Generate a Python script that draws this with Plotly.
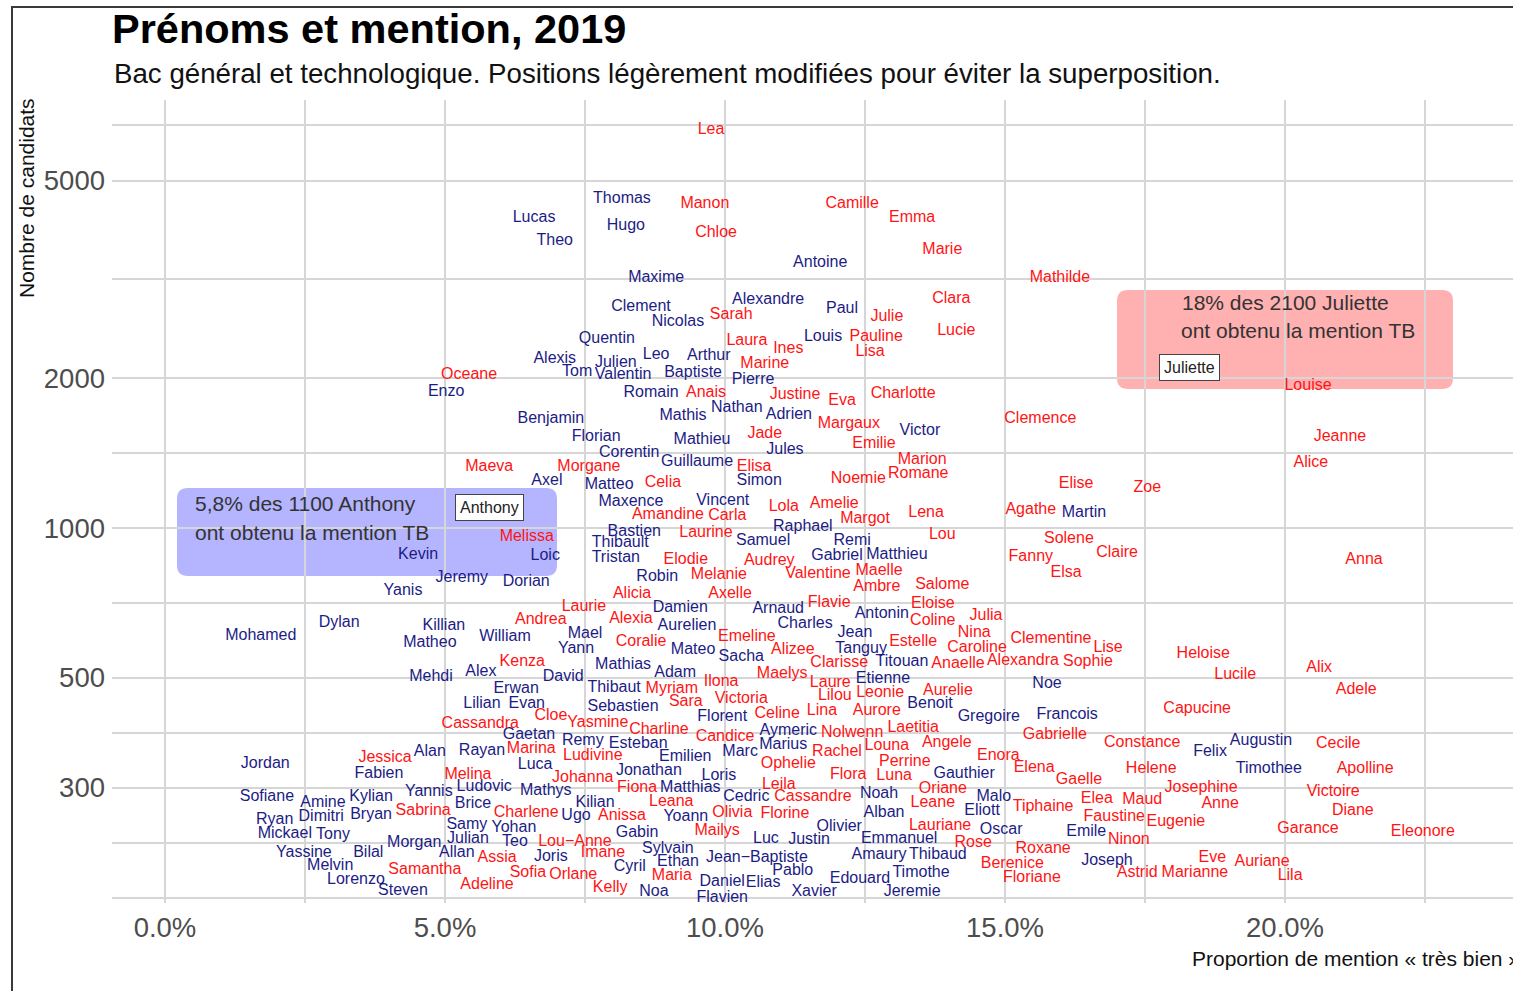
import math
import plotly.graph_objects as go

# ---------------- data (proportion of "très bien" in %, number of candidates) ----------------
girl_names = ["Lea","Manon","Camille","Emma","Chloe","Marie","Mathilde","Clara","Sarah","Julie","Lucie","Pauline",
    "Laura","Ines","Lisa","Marine","Oceane","Anais","Justine","Eva","Charlotte","Clemence","Margaux","Jade","Emilie",
    "Marion","Elisa","Maeva","Morgane","Noemie","Romane","Celia","Lola","Amelie","Amandine","Carla","Margot","Lena",
    "Laurine","Lou","Melissa","Elodie","Audrey","Melanie","Valentine","Maelle","Ambre","Salome","Alicia","Axelle",
    "Laurie","Flavie","Eloise","Andrea","Alexia","Coline","Julia","Nina","Emeline","Clementine","Coralie","Estelle",
    "Caroline","Lise","Alizee","Heloise","Alexandra","Sophie","Kenza","Clarisse","Anaelle","Alix","Maelys","Lucile",
    "Ilona","Laure","Myriam","Adele","Aurelie","Lilou","Leonie","Victoria","Sara","Capucine","Celine","Lina","Aurore",
    "Cloe","Yasmine","Cassandra","Laetitia","Charline","Nolwenn","Gabrielle","Candice","Angele","Constance","Cecile",
    "Louna","Marina","Rachel","Enora","Ludivine","Jessica","Perrine","Ophelie","Elena","Helene","Apolline","Melina",
    "Flora","Luna","Johanna","Gaelle","Leila","Fiona","Josephine","Oriane","Victoire","Cassandre","Elea","Maud",
    "Leana","Leane","Anne","Tiphaine","Sabrina","Diane","Charlene","Olivia","Florine","Anissa","Faustine","Eugenie",
    "Lauriane","Garance","Mailys","Eleonore","Ninon","Lou\u2212Anne","Rose","Roxane","Imane","Assia","Eve","Auriane",
    "Berenice","Samantha","Sofia","Astrid","Marianne","Orlane","Maria","Lila","Floriane","Adeline","Kelly","Louise",
    "Jeanne","Alice","Elise","Zoe","Agathe","Solene","Claire","Fanny","Elsa","Anna"]
girl_prop = [9.75,9.64,12.27,13.34,9.84,13.88,15.98,14.04,10.11,12.89,14.13,12.70,
    10.39,11.13,12.59,10.71,5.43,9.66,11.25,12.09,13.18,15.63,12.21,10.71,12.66,
    13.52,10.52,5.79,7.57,12.38,13.45,8.89,11.05,11.95,8.98,10.04,12.50,13.59,
    9.66,13.88,6.46,9.30,10.79,9.89,11.66,12.75,12.71,13.88,8.34,10.09,
    7.48,11.86,13.71,6.71,8.32,13.71,14.66,14.45,10.39,15.82,8.50,13.36,
    14.50,16.84,11.21,18.54,15.32,16.48,6.38,12.04,14.16,20.61,11.02,19.11,
    9.93,11.88,9.05,21.27,13.98,11.96,12.77,10.29,9.30,18.43,10.93,11.73,12.71,
    6.89,7.73,5.63,13.36,8.82,12.27,15.89,10.00,13.96,17.45,20.95,
    12.89,6.54,12.00,14.88,7.64,3.93,13.21,11.13,15.52,17.61,21.43,5.41,
    12.20,13.02,7.46,16.32,10.96,8.43,18.50,13.89,20.86,11.57,16.64,17.45,
    9.04,13.71,18.84,15.68,4.61,21.21,6.45,10.13,11.07,8.16,16.95,18.05,
    13.84,20.41,9.86,22.46,17.21,7.32,14.43,15.68,7.82,5.93,18.70,19.59,
    15.13,4.64,6.48,17.36,18.39,7.29,9.05,20.09,15.48,5.75,7.95,20.41,
    20.98,20.46,16.27,17.54,15.46,16.14,17.00,15.46,16.09,21.41]
girl_count = [6320,4490,4490,4200,3920,3630,3180,2890,2680,2660,2490,2420,
    2380,2290,2260,2140,2030,1870,1850,1800,1860,1660,1620,1545,1475,
    1370,1325,1325,1325,1255,1285,1230,1100,1115,1060,1055,1043,1070,
    977,968,959,862,858,804,808,819,760,768,736,736,
    694,706,703,653,656,650,665,614,603,598,589,589,
    573,573,568,558,540,537,537,535,532,523,508,506,
    489,487,474,472,470,459,465,453,447,432,422,428,428,
    419,405,403,396,392,387,383,379,370,370,368,
    365,360,355,348,347,345,338,335,329,327,327,318,
    318,317,314,311,304,300,300,298,294,287,285,283,
    281,280,279,274,270,270,267,267,266,263,262,256,
    252,248,246,244,236,234,232,226,222,217,217,213,
    211,205,202,202,202,200,199,199,198,191,189,1930,
    1524,1351,1226,1204,1087,950,891,874,812,862]

boy_names = ["Thomas","Lucas","Hugo","Theo","Antoine","Maxime","Alexandre","Clement","Paul","Nicolas","Louis",
    "Quentin","Leo","Arthur","Alexis","Julien","Tom","Valentin","Baptiste","Pierre","Enzo","Romain","Nathan","Adrien",
    "Mathis","Benjamin","Victor","Florian","Mathieu","Jules","Corentin","Guillaume","Simon","Axel","Matteo","Maxence",
    "Vincent","Raphael","Bastien","Samuel","Remi","Thibault","Kevin","Loic","Gabriel","Matthieu","Tristan","Robin",
    "Jeremy","Dorian","Yanis","Arnaud","Damien","Antonin","Dylan","Charles","Killian","Aurelien","Jean","Mael",
    "Mohamed","William","Matheo","Yann","Tanguy","Mateo","Sacha","Titouan","Mathias","Alex","Adam","Mehdi","David",
    "Etienne","Noe","Erwan","Thibaut","Lilian","Evan","Benoit","Sebastien","Francois","Gregoire","Florent","Aymeric",
    "Gaetan","Remy","Augustin","Esteban","Marius","Rayan","Alan","Felix","Marc","Emilien","Jordan","Luca","Timothee",
    "Jonathan","Fabien","Gauthier","Loris","Ludovic","Matthias","Mathys","Yannis","Noah","Sofiane","Cedric","Malo",
    "Kylian","Amine","Kilian","Brice","Eliott","Alban","Bryan","Ugo","Yoann","Dimitri","Ryan","Samy","Olivier",
    "Yohan","Oscar","Emile","Gabin","Mickael","Tony","Julian","Luc","Emmanuel","Justin","Teo","Morgan","Sylvain",
    "Allan","Yassine","Bilal","Amaury","Thibaud","Joris","Jean\u2212Baptiste","Joseph","Ethan","Melvin","Cyril",
    "Pablo","Timothe","Edouard","Lorenzo","Daniel","Elias","Steven","Noa","Xavier","Jeremie","Flavien","Martin"]
boy_prop = [8.16,6.59,8.23,6.96,11.70,8.77,10.77,8.50,12.09,9.16,11.75,
    7.89,8.77,9.71,6.96,8.05,7.36,8.18,9.43,10.50,5.02,8.68,10.21,11.14,
    9.25,6.89,13.48,7.70,9.59,11.07,8.29,9.50,10.61,6.82,7.93,8.32,
    9.96,11.39,8.38,10.68,12.27,8.13,4.52,6.79,12.00,13.07,8.05,8.79,
    5.30,6.45,4.25,10.95,9.20,12.80,3.11,11.43,4.98,9.32,12.32,7.50,
    1.71,6.07,4.73,7.34,12.43,9.43,10.29,13.16,8.18,5.64,9.11,4.75,7.11,
    12.82,15.75,6.27,8.02,5.66,6.46,13.66,8.18,16.11,14.71,9.95,11.13,
    6.50,7.46,19.57,8.45,11.04,5.66,4.73,18.66,10.27,9.29,1.79,6.61,19.71,
    8.64,3.82,14.27,9.89,5.70,9.38,6.80,4.71,12.75,1.82,10.38,14.80,
    3.68,2.82,7.68,5.50,14.59,12.84,3.68,7.34,9.30,2.79,1.96,5.39,12.04,
    6.23,14.93,16.45,8.43,2.14,3.00,5.41,10.73,13.11,11.50,6.25,4.45,8.98,
    5.21,2.48,3.63,12.75,13.80,6.89,10.57,16.82,9.16,2.95,8.30,
    11.21,13.50,12.41,3.41,9.95,10.68,4.25,8.73,11.59,13.34,9.95,16.41]
boy_count = [4590,4200,4050,3780,3410,3180,2880,2785,2760,2600,2420,
    2400,2230,2220,2190,2150,2060,2030,2050,1985,1880,1870,1740,1690,
    1680,1660,1567,1524,1500,1435,1415,1357,1243,1243,1220,1127,
    1133,1005,982,942,942,933,882,878,878,882,870,797,
    793,779,747,687,690,671,644,641,635,635,614,611,
    606,603,587,571,571,568,550,537,530,513,511,501,501,
    496,485,474,476,443,443,443,437,420,416,416,390,
    383,373,373,368,366,356,354,354,354,346,335,333,327,
    324,320,320,317,301,300,296,294,292,288,288,288,
    287,280,280,278,270,267,265,263,262,262,259,253,250,
    249,247,244,243,242,241,237,237,237,236,234,232,226,
    222,222,222,220,220,218,217,214,213,209,208,
    204,202,197,196,194,193,186,185,185,185,180,1072]

# highlighted names (label boxes)
highlight_names = ["Anthony", "Juliette"]
highlight_prop = [5.8, 18.3]
highlight_count = [1100, 2100]
highlight_text = ["5,8% des 1100 Anthony", "18% des 2100 Juliette"]

y_tick_vals = [300, 500, 1000, 2000, 5000]
x_tick_vals = [0.0, 0.05, 0.10, 0.15, 0.20]

BLUE = "#1c1c85"
RED = "#ff1414"
FONT = "Liberation Sans, Arial, sans-serif"

# ---------------- layout geometry (pixels) ----------------
W, H = 1513, 991
ML, MR, MT, MB = 112, 0, 100, 88
PW, PH = W - ML - MR, H - MT - MB


def px_to_paper_x(px):
    return (px - ML) / PW


def px_to_paper_y(py):
    return (H - MB - py) / PH


def rounded_box(x0, x1, y0, y1, r):
    # pixel box -> paper-coordinate rounded-rectangle path
    X0, X1 = px_to_paper_x(x0), px_to_paper_x(x1)
    Y0, Y1 = px_to_paper_y(y1), px_to_paper_y(y0)  # bottom, top
    rx, ry = r / PW, r / PH
    return (f"M {X0+rx},{Y0} L {X1-rx},{Y0} Q {X1},{Y0} {X1},{Y0+ry} "
            f"L {X1},{Y1-ry} Q {X1},{Y1} {X1-rx},{Y1} L {X0+rx},{Y1} "
            f"Q {X0},{Y1} {X0},{Y1-ry} L {X0},{Y0+ry} Q {X0},{Y0} {X0+rx},{Y0} Z")


fig = go.Figure()

fig.add_trace(go.Scatter(
    x=[p / 100 for p in boy_prop], y=boy_count, text=boy_names, mode="text",
    textposition="middle center", textfont=dict(family=FONT, size=16, color=BLUE),
    hoverinfo="skip", showlegend=False, cliponaxis=False))
fig.add_trace(go.Scatter(
    x=[p / 100 for p in girl_prop], y=girl_count, text=girl_names, mode="text",
    textposition="middle center", textfont=dict(family=FONT, size=16, color=RED),
    hoverinfo="skip", showlegend=False, cliponaxis=False))

shapes = [
    dict(type="path", xref="paper", yref="paper", path=rounded_box(177, 557, 488, 576, 11),
         fillcolor="rgba(105,105,255,0.5)", line=dict(width=0), layer="below"),
    dict(type="path", xref="paper", yref="paper", path=rounded_box(1117, 1453, 290, 389, 11),
         fillcolor="rgba(255,97,97,0.5)", line=dict(width=0), layer="below"),
    # window frame lines
    dict(type="line", xref="paper", yref="paper", x0=px_to_paper_x(12), x1=px_to_paper_x(12),
         y0=px_to_paper_y(991), y1=px_to_paper_y(6), line=dict(color="#3a3a3a", width=2)),
    dict(type="line", xref="paper", yref="paper", x0=px_to_paper_x(12), x1=px_to_paper_x(1513),
         y0=px_to_paper_y(7), y1=px_to_paper_y(7), line=dict(color="#3a3a3a", width=2)),
]

annotations = []
# highlighted name labels
for nm, p, c in zip(highlight_names, highlight_prop, highlight_count):
    annotations.append(dict(x=p / 100, y=math.log10(c), xref="x", yref="y", text=nm, showarrow=False,
                            font=dict(family=FONT, size=16, color="#222222"), bgcolor="white",
                            bordercolor="#444444", borderwidth=1, borderpad=4,
                            xanchor="center", yanchor="middle"))
# box texts
box_lines = [
    (highlight_text[0], 193, 503), ("ont obtenu la mention TB", 193, 532),
    (highlight_text[1], 1180, 302), ("ont obtenu la mention TB", 1179, 330),
]
for t, bx, by in box_lines:
    annotations.append(dict(x=px_to_paper_x(bx), y=px_to_paper_y(by), xref="paper", yref="paper", text=t,
                            showarrow=False, xanchor="left", yanchor="middle",
                            font=dict(family=FONT, size=21, color="#333333")))
# subtitle
annotations.append(dict(x=px_to_paper_x(112), y=px_to_paper_y(73), xref="paper", yref="paper",
                        text="Bac général et technologique. Positions légèrement modifiées pour éviter la superposition.",
                        showarrow=False, xanchor="left", yanchor="middle",
                        font=dict(family=FONT, size=27.7, color="#111111")))
# axis titles
annotations.append(dict(x=px_to_paper_x(26), y=px_to_paper_y(198), xref="paper", yref="paper",
                        text="Nombre de candidats", textangle=-90, showarrow=False,
                        xanchor="center", yanchor="middle", font=dict(family=FONT, size=21, color="#111111")))
annotations.append(dict(x=px_to_paper_x(1190), y=px_to_paper_y(958), xref="paper", yref="paper",
                        text="Proportion de mention « très bien »", showarrow=False,
                        xanchor="left", yanchor="middle", font=dict(family=FONT, size=21, color="#111111")))

# minor gridlines: geometric / arithmetic midpoints of the major breaks (ggplot style)
y_minor = [math.sqrt(a * b) for a, b in zip(y_tick_vals[:-1], y_tick_vals[1:])]
gap = math.log10(y_tick_vals[1]) - math.log10(y_tick_vals[0])
y_minor = [10 ** (math.log10(y_tick_vals[0]) - gap)] + [10 ** (math.log10(y_tick_vals[0]) - gap / 2)] + y_minor \
    + [10 ** (math.log10(y_tick_vals[-1]) + gap / 2)]
x_minor = [v + 0.025 for v in x_tick_vals]

GRID = "#d6d6d6"
fig.update_layout(
    width=W, height=H,
    margin=dict(l=ML, r=MR, t=MT, b=MB, pad=0),
    paper_bgcolor="white", plot_bgcolor="white",
    hovermode=False,
    title=dict(text="<b>Prénoms et mention, 2019</b>", x=112 / W, xanchor="left", xref="container",
               y=1 - 28 / H, yanchor="middle", yref="container",
               font=dict(family=FONT, size=41.5, color="#000000")),
    xaxis=dict(range=[-0.00946, 0.2407], tickvals=x_tick_vals, tickformat=".1%",
               showgrid=True, gridcolor=GRID, gridwidth=1.5, zeroline=False, showline=False,
               ticks="", ticklabelstandoff=5, automargin=False,
               tickfont=dict(family=FONT, size=27.5, color="#4d4d4d"),
               minor=dict(tickmode="array", tickvals=x_minor, showgrid=True, gridcolor=GRID, gridwidth=1.5)),
    yaxis=dict(type="log", range=[2.2455, 3.861], tickvals=y_tick_vals,
               ticktext=[str(v) for v in y_tick_vals],
               showgrid=True, gridcolor=GRID, gridwidth=1.5, zeroline=False, showline=False,
               ticks="", ticklabelstandoff=6, automargin=False,
               tickfont=dict(family=FONT, size=27.5, color="#4d4d4d"),
               minor=dict(tickmode="array", tickvals=y_minor, showgrid=True, gridcolor=GRID, gridwidth=1.5)),
    shapes=shapes,
    annotations=annotations,
)

fig.write_html("out.html", config={"displayModeBar": False},
               post_script="document.body.style.margin='0px';document.body.style.overflow='hidden';")
